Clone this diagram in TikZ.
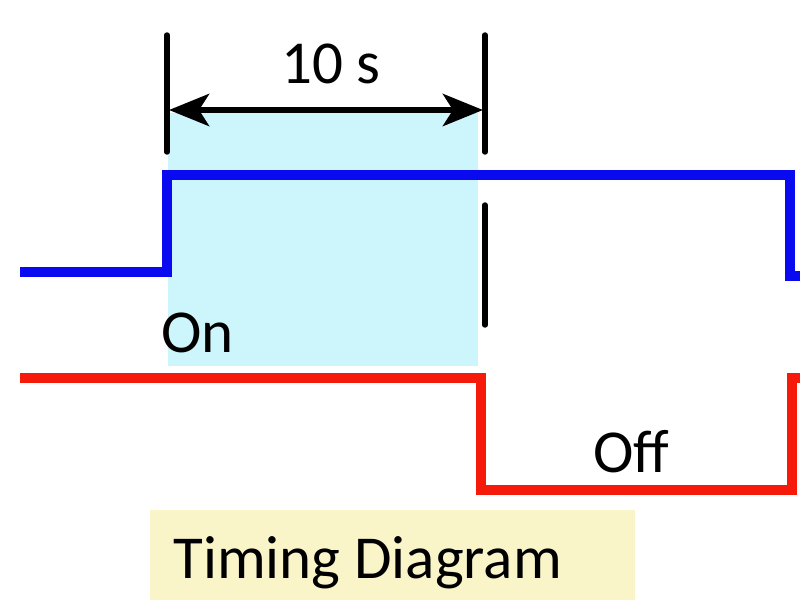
\documentclass[tikz,border=0pt]{standalone}
\usepackage{fontspec}
\setmainfont{Carlito}
\usetikzlibrary{arrows.meta}
\definecolor{sigblue}{HTML}{0A0AF0}
\definecolor{sigred}{HTML}{F51A0A}
\definecolor{oncyan}{HTML}{CCF6FB}
\definecolor{capyellow}{HTML}{FAF5C8}
\begin{document}
\begin{tikzpicture}[x=0.5pt,y=-0.5pt,
  sig/.style={line width=4.9pt, line join=miter},
  tick/.style={line width=2.7pt, black, line cap=round},
  dim/.style={line width=3.2pt, black, {Stealth[length=20pt,width=16pt,inset=5pt]}-{Stealth[length=20pt,width=16pt,inset=5pt]}},
  lab/.style={inner sep=0pt, font=\fontsize{30.5pt}{33pt}\selectfont, text=black}]
\useasboundingbox (0,0) rectangle (800,600);
\fill[white] (0,0) rectangle (800,600);
% shaded regions
\fill[oncyan] (168,113) rectangle (478,366);
\fill[capyellow] (150,510) rectangle (635,600);
% blue signal
\coordinate (b0) at (20,272);
\coordinate (b1) at (167,272);
\coordinate (b2) at (167,175);
\coordinate (b3) at (790,175);
\coordinate (b4) at (790,276);
\coordinate (b5) at (800,276);
\draw[sig, sigblue] (b0) -- (b1) -- (b2) -- (b3) -- (b4) -- (b5);
% red signal
\coordinate (r0) at (20,378);
\coordinate (r1) at (481,378);
\coordinate (r2) at (481,490);
\coordinate (r3) at (792,490);
\coordinate (r4) at (792,378);
\coordinate (r5) at (800,378);
\draw[sig, sigred] (r0) -- (r1) -- (r2) -- (r3) -- (r4) -- (r5);
% ticks
\coordinate (t1a) at (167,35);
\coordinate (t1b) at (167,152);
\coordinate (t2a) at (485,35);
\coordinate (t2b) at (485,152);
\coordinate (t3a) at (485,205);
\coordinate (t3b) at (485,325);
\draw[tick] (t1a) -- (t1b);
\draw[tick] (t2a) -- (t2b);
\draw[tick] (t3a) -- (t3b);
% dimension arrow
\coordinate (d1) at (169,110);
\coordinate (d2) at (483,110);
\draw[dim] (d1) -- (d2);
% labels
\node[lab, anchor=base] (ten) at (331,83) {10 s};
\node[lab, anchor=base west] (on) at (161,352) {On};
\node[lab, anchor=base west] (off) at (593,472) {Off};
\node[lab, anchor=base west] (title) at (173,578) {Timing Diagram};
\end{tikzpicture}
\end{document}
